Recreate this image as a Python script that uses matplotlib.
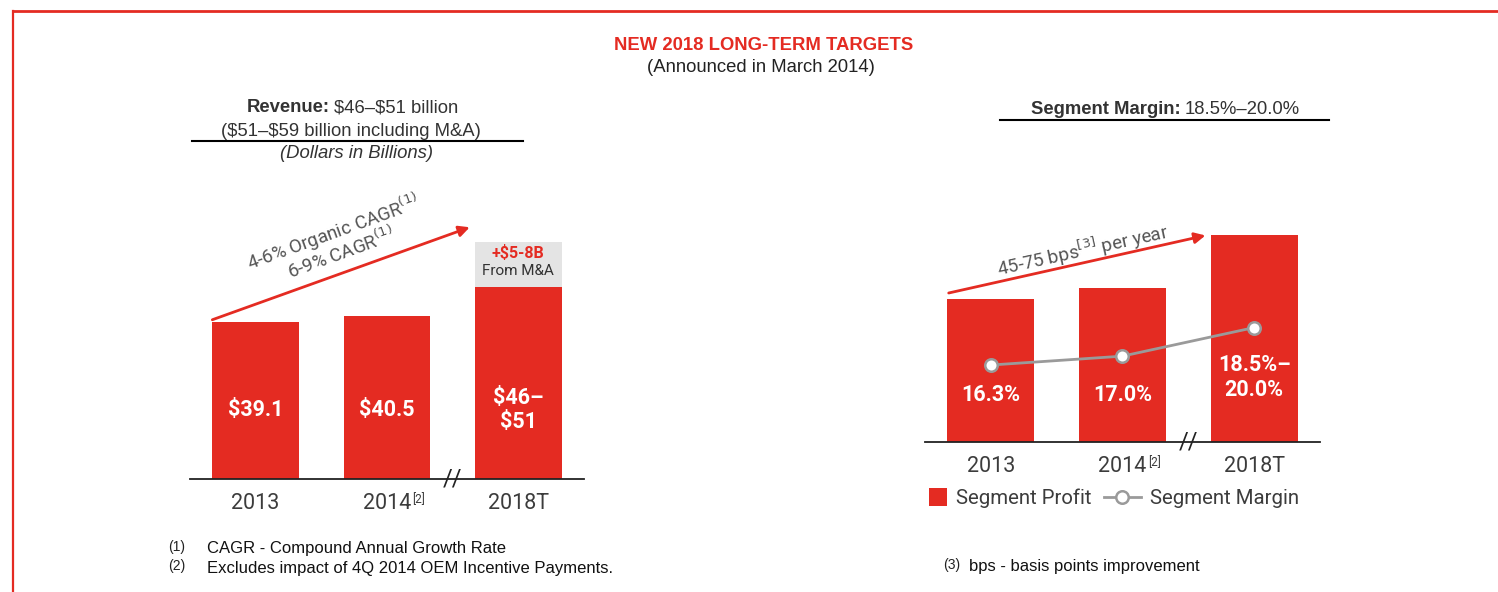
"""Rebuild of the 2018 long-term targets slide: revenue bars and segment profit/margin."""

import matplotlib

matplotlib.use("Agg")
import matplotlib.pyplot as plt
import matplotlib.patches as mpatches
from matplotlib.legend_handler import HandlerPatch
from matplotlib.lines import Line2D

# data
years = ["2013", "2014", "2018T"]
year_notes = ["", "[2]", ""]
revenue = [39.1, 40.5, 47.8]          # bar heights, $B (2018T drawn at ~mid of 46-51)
revenue_ma_top = 59.0                 # grey M&A box reaches $59B
revenue_labels = ["\\$39.1", "\\$40.5", "\\$46–\n\\$51"]
seg_profit = [6.4, 6.9, 9.3]          # segment profit bars, $B (unlabelled)
seg_margin = [16.3, 17.0, 19.25]      # % (2018T at mid of 18.5-20.0)
margin_labels = ["16.3%", "17.0%", "18.5%–\n20.0%"]

RED = "#e42b22"
GREY_TXT = "#3c3c3c"
W, H = 1498, 592

plt.rcParams["font.family"] = ["Roboto", "DejaVu Sans"]


def fx(px):
    return px / W


def fy(py):
    return 1 - py / H


fig = plt.figure(figsize=(W / 100, H / 100), dpi=100)

# ---- frame lines of the slide
fig.add_artist(Line2D([fx(13), 1], [fy(11), fy(11)], color=RED, lw=2, transform=fig.transFigure))
fig.add_artist(Line2D([fx(13), fx(13)], [fy(11), 0], color=RED, lw=1.6, transform=fig.transFigure))

# ---- header text
hdr = dict(family=["Liberation Sans", "DejaVu Sans"])
HS = 13.3
fig.text(fx(764), fy(45), "NEW 2018 LONG-TERM TARGETS", ha="center", va="center",
         color=RED, fontsize=HS, fontweight="bold", **hdr)
fig.text(fx(761), fy(68), "(Announced in March 2014)", ha="center", va="center",
         color="#222222", fontsize=HS, **hdr)

fig.text(fx(330), fy(108), "Revenue:", ha="right", va="center", color="#333333",
         fontsize=HS, fontweight="bold", **hdr)
fig.text(fx(334), fy(108), "\\$46–\\$51 billion", ha="left", va="center", color="#333333",
         fontsize=HS, **hdr)
fig.text(fx(351), fy(131), "(\\$51–\\$59 billion including M&A)", ha="center", va="center",
         color="#333333", fontsize=HS, **hdr)
fig.add_artist(Line2D([fx(192), fx(523)], [fy(141), fy(141)], color="black", lw=1.5,
                      transform=fig.transFigure))
fig.text(fx(357), fy(154), "(Dollars in Billions)", ha="center", va="center", color="#333333",
         fontsize=HS, style="italic", **hdr)

fig.text(fx(1181), fy(109), "Segment Margin:", ha="right", va="center", color="#333333",
         fontsize=HS, fontweight="bold", **hdr)
fig.text(fx(1185), fy(109), "18.5%–20.0%", ha="left", va="center", color="#333333",
         fontsize=HS, **hdr)
fig.add_artist(Line2D([fx(1000), fx(1329)], [fy(120), fy(120)], color="black", lw=1.5,
                      transform=fig.transFigure))

# ---- footnotes
foot = [(168, 207, 549, "(1)", "CAGR - Compound Annual Growth Rate"),
        (168, 207, 568, "(2)", "Excludes impact of 4Q 2014 OEM Incentive Payments."),
        (943, 969, 567, "(3)", "bps - basis points improvement")]
for xm, xt, y, mark, txt in foot:
    fig.text(fx(xm), fy(y - 2), mark, ha="left", va="center", fontsize=10, color="#222222", **hdr)
    fig.text(fx(xt), fy(y), txt, ha="left", va="center", fontsize=12, color="#111111", **hdr)


def style_axis(ax):
    for side in ("top", "left", "right"):
        ax.spines[side].set_visible(False)
    ax.spines["bottom"].set_color("#222222")
    ax.spines["bottom"].set_linewidth(1.3)
    ax.set_yticks([])
    ax.set_xticks([])
    ax.set_xlim(-0.5, 2.5)
    ax.patch.set_alpha(0)
    tr = ax.get_xaxis_transform()
    for i, (yr, note) in enumerate(zip(years, year_notes)):
        t = ax.text(i, -0.1, yr, transform=tr, ha="center", va="baseline",
                    fontsize=15.5, color=GREY_TXT)
        if note:
            ax.annotate(note, xy=(1, 1), xycoords=t, xytext=(1, 0), textcoords="offset points",
                        ha="left", va="top", fontsize=8.5, color=GREY_TXT)
    ax.text(1.5, 0, "//", ha="center", va="center", fontsize=17, color="#222222")


# ---- left: revenue
x = range(3)
ax1 = fig.add_axes([fx(190), fy(479), 394 / W, 300 / H])
ax1.bar(x, revenue, width=0.66, color=RED, zorder=2)
ax1.bar(2, revenue_ma_top - revenue[2], bottom=revenue[2], width=0.66, color="#e4e4e4", zorder=2)
ax1.set_ylim(0, 74.6)
style_axis(ax1)
for i, lab in enumerate(revenue_labels):
    ax1.text(i, 17.2, lab, ha="center", va="center", color="white", fontsize=15.5,
             fontweight="bold", linespacing=1.15)
ax1.text(2, 56.2, "+\\$5-8B", ha="center", va="center", color=RED, fontsize=11.5, fontweight="bold")
ax1.text(2, 51.6, "From M&A", ha="center", va="center", color="#333333", fontsize=11)
ax1.annotate("", xy=(1.63, 62.6), xytext=(-0.33, 39.6),
             arrowprops=dict(arrowstyle="-|>", color=RED, lw=2, mutation_scale=16,
                             shrinkA=0, shrinkB=0))
ax1.text(0.59, 61.4, "4-6% Organic CAGR$^{(1)}$", ha="center", va="center", rotation=20,
         color="#555555", fontsize=13.5)
ax1.text(0.65, 56.2, "6-9% CAGR$^{(1)}$", ha="center", va="center", rotation=20,
         color="#555555", fontsize=13.5)

# ---- right: segment profit and margin
ax2 = fig.add_axes([fx(925), fy(442), 395 / W, 300 / H])
bars = ax2.bar(x, seg_profit, width=0.66, color=RED, zorder=2, label="Segment Profit")
ax2.set_ylim(0, 13.45)
style_axis(ax2)
for i, lab in enumerate(margin_labels):
    ax2.text(i, 2.1 if i < 2 else 2.9, lab, ha="center", va="center", color="white",
             fontsize=15.5, fontweight="bold", linespacing=1.15)
ax2.annotate("", xy=(1.63, 9.26), xytext=(-0.32, 6.68),
             arrowprops=dict(arrowstyle="-|>", color=RED, lw=2, mutation_scale=16,
                             shrinkA=0, shrinkB=0))
ax2.text(0.70, 8.6, "45-75 bps$^{[3]}$ per year", ha="center", va="center", rotation=12.5,
         color="#555555", fontsize=13.5)

ax3 = ax2.twinx()
ax3.set_ylim(10.24, 33.86)
ax3.axis("off")
line, = ax3.plot(x, seg_margin, color="#9a9a9a", lw=2, marker="o", markersize=9,
                 markerfacecolor="white", markeredgecolor="#9a9a9a", markeredgewidth=1.8,
                 label="Segment Margin", zorder=3)


def square_patch(legend, orig_handle, xdescent, ydescent, width, height, fontsize):
    s = height * 1.25
    return mpatches.Rectangle((-xdescent + width - s, -ydescent + (height - s) / 2), s, s)


bar_handle = bars.patches[0]
fig.legend(handles=[bar_handle, line], labels=["Segment Profit", "Segment Margin"],
           loc="upper left", bbox_to_anchor=(fx(892), fy(470)),
           ncol=2, frameon=False, fontsize=14.7, handlelength=1.8, handletextpad=0.45,
           columnspacing=0.6, labelcolor=GREY_TXT,
           handler_map={bar_handle: HandlerPatch(patch_func=square_patch)})

fig.savefig("out.png", dpi=100)
